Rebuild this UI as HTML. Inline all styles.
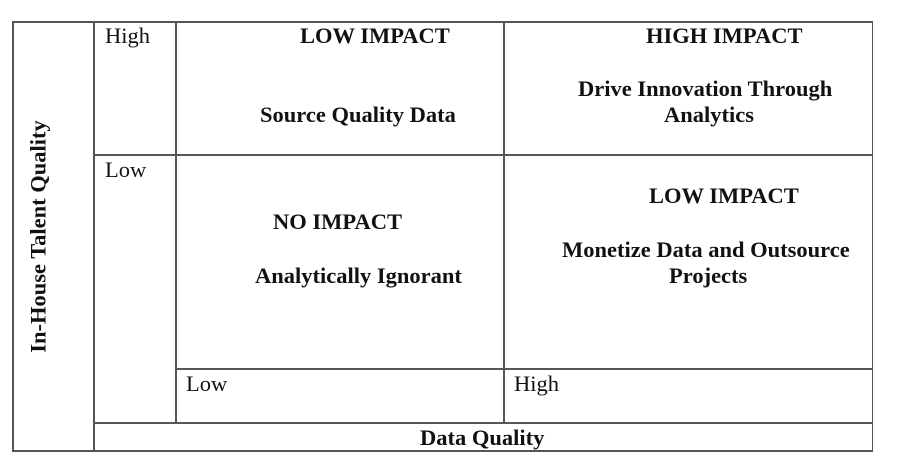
<!DOCTYPE html>
<html><head><style>
body{margin:0;width:900px;height:457px;background:#fff;position:relative;overflow:hidden;font-family:"Liberation Serif",serif;color:#111}
.l{position:absolute;background:#555}
.t{position:absolute;font-size:22.5px;line-height:27px;white-space:nowrap}
.b{font-weight:bold;position:absolute;font-size:22.5px;line-height:27px;white-space:nowrap}
</style></head><body>
<div class="l" style="left:12px;top:21px;width:861px;height:1.5px"></div>
<div class="l" style="left:12px;top:450px;width:861px;height:1.5px"></div>
<div class="l" style="left:12px;top:21px;width:1.5px;height:431px"></div>
<div class="l" style="left:871.5px;top:21px;width:1.5px;height:431px"></div>
<div class="l" style="left:93px;top:21px;width:1.5px;height:430px"></div>
<div class="l" style="left:175px;top:21px;width:1.5px;height:402px"></div>
<div class="l" style="left:503px;top:21px;width:1.5px;height:402px"></div>
<div class="l" style="left:93px;top:154px;width:779px;height:1.5px"></div>
<div class="l" style="left:175px;top:368px;width:697px;height:1.5px"></div>
<div class="l" style="left:93px;top:422px;width:779px;height:1.5px"></div>
<div class="t" style="left:105px;top:22px">High</div>
<div class="t" style="left:105px;top:156px">Low</div>
<div class="t" style="left:186px;top:370px">Low</div>
<div class="t" style="left:514px;top:370px">High</div>
<div class="b" style="left:300px;top:22px">LOW IMPACT</div>
<div class="b" style="left:260px;top:101px">Source Quality Data</div>
<div class="b" style="left:646px;top:22px">HIGH IMPACT</div>
<div class="b" style="left:578px;top:75px">Drive Innovation Through</div>
<div class="b" style="left:664px;top:101px">Analytics</div>
<div class="b" style="left:273px;top:208px">NO IMPACT</div>
<div class="b" style="left:255px;top:262px">Analytically Ignorant</div>
<div class="b" style="left:649px;top:182px">LOW IMPACT</div>
<div class="b" style="left:562px;top:236px">Monetize Data and Outsource</div>
<div class="b" style="left:669px;top:262px">Projects</div>
<div class="b" style="left:420px;top:424px">Data Quality</div>
<div class="b" style="left:-82px;top:223px;width:240px;text-align:center;transform:rotate(-90deg);transform-origin:center">In-House Talent Quality</div>
</body></html>
